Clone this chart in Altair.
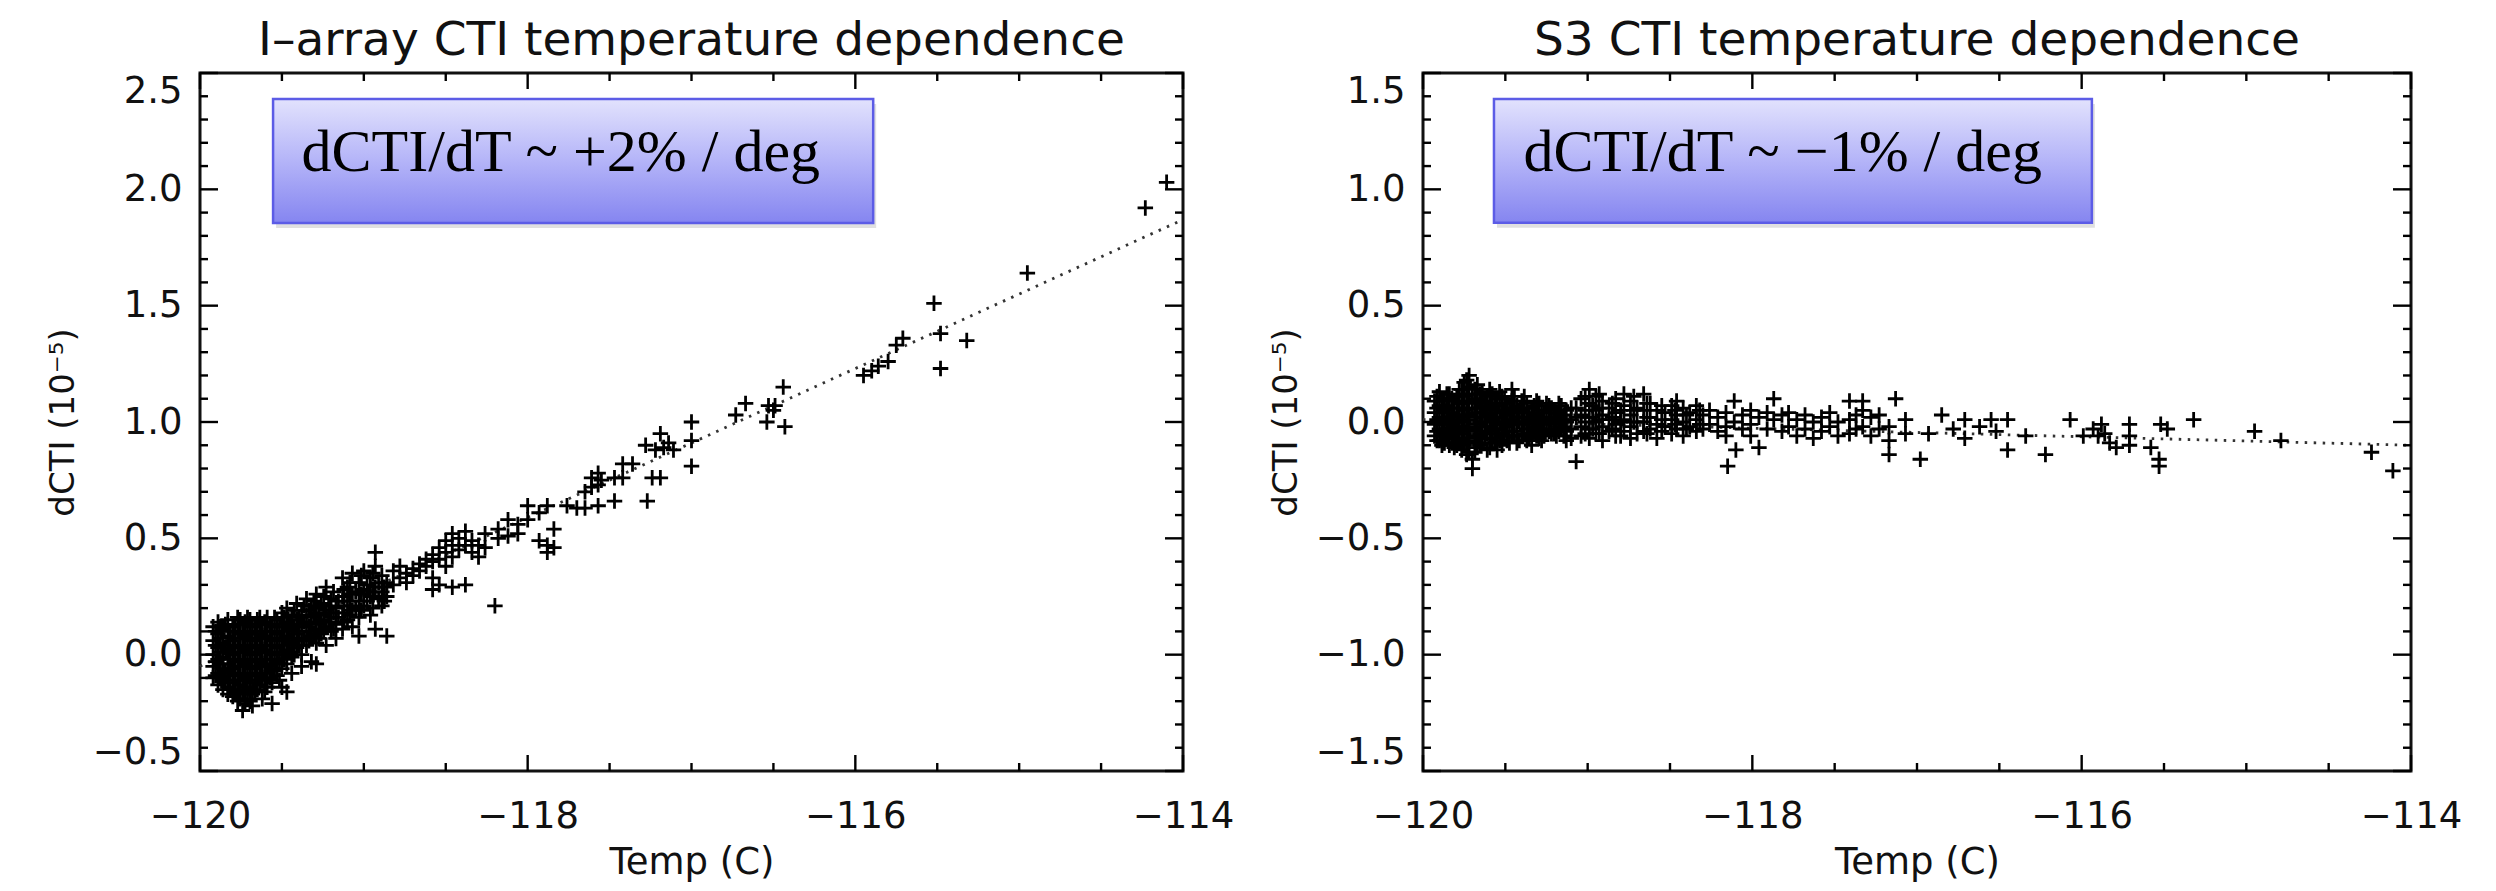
import altair as alt
import pandas as pd

# ---------------- data ----------------
# I-array panel: (Temp, [dCTI values at that temperature])
I_COLS = [
    (-119.92, [0.12, 0.06, 0.00, -0.05, -0.10]),
    (-119.905, [0.10, 0.04, -0.03, -0.09]),
    (-119.89, [0.14, 0.09, 0.03, -0.02, -0.08, -0.13]),
    (-119.875, [0.12, 0.07, 0.01, -0.04, -0.10]),
    (-119.86, [0.11, 0.05, -0.01, -0.06, -0.11, -0.15]),
    (-119.845, [0.13, 0.03, -0.07, -0.12]),
    (-119.83, [0.15, 0.08, 0.02, -0.04, -0.09, -0.14, -0.17]),
    (-119.815, [0.10, 0.04, -0.02, -0.08, -0.15]),
    (-119.80, [0.12, 0.06, 0.00, -0.06, -0.12, -0.18]),
    (-119.785, [0.13, 0.07, 0.01, -0.05, -0.11, -0.16]),
    (-119.77, [0.16, 0.10, 0.03, -0.03, -0.09, -0.15, -0.20]),
    (-119.755, [0.15, 0.09, 0.04, -0.02, -0.08, -0.13, -0.19]),
    (-119.74, [0.13, 0.07, 0.01, -0.05, -0.11, -0.17, -0.24]),
    (-119.725, [0.14, 0.08, 0.02, -0.04, -0.10, -0.16, -0.21]),
    (-119.71, [0.16, 0.10, 0.04, -0.02, -0.08, -0.14, -0.19]),
    (-119.695, [0.15, 0.09, 0.03, -0.03, -0.09, -0.15, -0.20]),
    (-119.68, [0.12, 0.06, 0.00, -0.06, -0.12, -0.17, -0.22]),
    (-119.665, [0.13, 0.07, 0.01, -0.05, -0.11, -0.16]),
    (-119.65, [0.15, 0.09, 0.03, -0.03, -0.09, -0.15]),
    (-119.635, [0.16, 0.10, 0.04, -0.02, -0.08, -0.13]),
    (-119.62, [0.13, 0.07, 0.01, -0.05, -0.11, -0.19]),
    (-119.605, [0.14, 0.08, 0.02, -0.04, -0.10, -0.16]),
    (-119.59, [0.16, 0.10, 0.04, -0.02, -0.08, -0.14]),
    (-119.575, [0.13, 0.07, 0.01, -0.05, -0.10]),
    (-119.56, [0.12, 0.06, 0.00, -0.06, -0.12, -0.21]),
    (-119.545, [0.16, 0.10, 0.04, -0.02, -0.07]),
    (-119.53, [0.15, 0.09, 0.03, -0.03, -0.09]),
    (-119.515, [0.13, 0.07, 0.01, -0.04, -0.11]),
    (-119.50, [0.18, 0.12, 0.06, 0.00, -0.06, -0.14]),
    (-119.485, [0.16, 0.10, 0.04, -0.02]),
    (-119.47, [0.20, 0.14, 0.08, 0.02, -0.04, -0.16]),
    (-119.455, [0.13, 0.07, 0.01]),
    (-119.44, [0.17, 0.11, 0.05, -0.01, -0.08]),
    (-119.425, [0.19, 0.12, 0.06, 0.00]),
    (-119.41, [0.22, 0.15, 0.09, 0.03]),
    (-119.395, [0.16, 0.10, 0.04]),
    (-119.38, [0.19, 0.13, 0.06, 0.00, -0.05]),
    (-119.365, [0.21, 0.14, 0.07]),
    (-119.35, [0.24, 0.17, 0.10, 0.04]),
    (-119.335, [0.19, 0.12, 0.06]),
    (-119.32, [0.21, 0.14, 0.08, -0.03]),
    (-119.305, [0.23, 0.16, 0.09]),
    (-119.29, [0.26, 0.18, 0.11, 0.05, -0.04]),
    (-119.275, [0.20, 0.13, 0.07]),
    (-119.26, [0.22, 0.15, 0.09]),
    (-119.245, [0.25, 0.17, 0.10]),
    (-119.23, [0.29, 0.19, 0.12, 0.04]),
    (-119.215, [0.21, 0.14]),
    (-119.20, [0.24, 0.16, 0.10]),
    (-119.185, [0.27, 0.18, 0.11]),
    (-119.17, [0.20, 0.13, 0.07]),
    (-119.155, [0.23, 0.16]),
    (-119.13, [0.33, 0.25, 0.18, 0.11]),
    (-119.12, [0.28, 0.21, 0.14]),
    (-119.10, [0.29, 0.21, 0.15]),
    (-119.085, [0.31, 0.23, 0.17]),
    (-119.07, [0.35, 0.26, 0.19, 0.12]),
    (-119.05, [0.27, 0.20]),
    (-119.03, [0.31, 0.23, 0.16, 0.08]),
    (-119.015, [0.34, 0.26, 0.19]),
    (-119.00, [0.36, 0.28, 0.21]),
    (-118.98, [0.30, 0.23]),
    (-118.96, [0.33, 0.25, 0.17]),
    (-118.945, [0.35, 0.27, 0.20]),
    (-118.93, [0.44, 0.38, 0.29, 0.11]),
    (-118.91, [0.31, 0.24]),
    (-118.89, [0.34, 0.27, 0.21]),
    (-118.875, [0.29, 0.23]),
    (-118.86, [0.31, 0.25, 0.08]),
    (-118.82, [0.36, 0.30]),
    (-118.78, [0.33, 0.38]),
    (-118.74, [0.35, 0.31]),
    (-118.70, [0.37, 0.34]),
    (-118.66, [0.39, 0.36]),
    (-118.62, [0.38, 0.41]),
    (-118.58, [0.43, 0.40, 0.33, 0.28]),
    (-118.54, [0.46, 0.41, 0.30]),
    (-118.50, [0.49, 0.44, 0.38]),
    (-118.46, [0.52, 0.47, 0.42, 0.29]),
    (-118.42, [0.50, 0.45]),
    (-118.38, [0.53, 0.47, 0.30]),
    (-118.34, [0.49, 0.44]),
    (-118.30, [0.47, 0.42]),
    (-118.26, [0.52, 0.46]),
    (-118.20, [0.21]),
    (-118.18, [0.54, 0.50]),
    (-118.12, [0.58, 0.51]),
    (-118.06, [0.56, 0.52]),
    (-118.00, [0.64, 0.58]),
    (-117.93, [0.61, 0.49]),
    (-117.88, [0.64, 0.47, 0.44]),
    (-117.84, [0.54, 0.46]),
    (-117.76, [0.64]),
    (-117.70, [0.63]),
    (-117.65, [0.63, 0.70]),
    (-117.61, [0.76, 0.72]),
    (-117.57, [0.78, 0.73, 0.64]),
    (-117.55, [0.75]),
    (-117.47, [0.76, 0.66]),
    (-117.42, [0.76, 0.82]),
    (-117.36, [0.82]),
    (-117.28, [0.90]),
    (-117.27, [0.66]),
    (-117.24, [0.76]),
    (-117.22, [0.88]),
    (-117.19, [0.95, 0.76]),
    (-117.17, [0.89]),
    (-117.14, [0.91]),
    (-117.11, [0.88]),
    (-117.00, [1.00, 0.92, 0.81]),
    (-116.73, [1.03]),
    (-116.67, [1.08]),
    (-116.54, [1.00]),
    (-116.53, [1.07]),
    (-116.50, [1.05]),
    (-116.49, [1.07]),
    (-116.44, [1.15]),
    (-116.43, [0.98]),
    (-115.95, [1.20]),
    (-115.90, [1.22]),
    (-115.86, [1.24]),
    (-115.80, [1.26]),
    (-115.75, [1.33]),
    (-115.71, [1.36]),
    (-115.52, [1.51]),
    (-115.48, [1.38, 1.23]),
    (-115.32, [1.35]),
    (-114.95, [1.64]),
    (-114.23, [1.92]),
    (-114.10, [2.03]),
]

# S3 panel
S3_COLS = [
    (-119.93, [0.09, 0.04, -0.01, -0.06]),
    (-119.915, [0.11, 0.06, 0.01, -0.04, -0.08]),
    (-119.90, [0.13, 0.07, 0.02, -0.03, -0.08]),
    (-119.885, [0.09, 0.04, -0.01, -0.06, -0.10]),
    (-119.87, [0.10, 0.05, 0.00, -0.05, -0.09]),
    (-119.855, [0.12, 0.07, 0.02, -0.03, -0.07]),
    (-119.84, [0.12, 0.06, 0.01, -0.04, -0.10]),
    (-119.825, [0.10, 0.04, -0.01, -0.06, -0.09]),
    (-119.81, [0.09, 0.03, -0.02, -0.07, -0.11]),
    (-119.795, [0.11, 0.06, 0.00, -0.05, -0.10]),
    (-119.78, [0.14, 0.08, 0.02, -0.03, -0.08]),
    (-119.765, [0.14, 0.08, 0.03, -0.02, -0.07, -0.12]),
    (-119.75, [0.17, 0.11, 0.05, 0.00, -0.05, -0.10]),
    (-119.735, [0.18, 0.12, 0.06, 0.01, -0.04, -0.09, -0.14]),
    (-119.72, [0.20, 0.15, 0.09, 0.03, -0.02, -0.07, -0.13]),
    (-119.70, [0.12, 0.06, -0.16, -0.20]),
    (-119.685, [0.14, 0.08, 0.02, -0.03, -0.08, -0.13]),
    (-119.67, [0.16, 0.10, 0.04, -0.01, -0.06, -0.11]),
    (-119.655, [0.12, 0.06, 0.00, -0.05, -0.10]),
    (-119.64, [0.13, 0.07, 0.02, -0.04, -0.09]),
    (-119.625, [0.09, 0.04, -0.02, -0.07]),
    (-119.61, [0.11, 0.05, 0.00, -0.05, -0.12]),
    (-119.595, [0.14, 0.08, 0.03, -0.02, -0.07, -0.11]),
    (-119.58, [0.12, 0.06, 0.01, -0.04, -0.09]),
    (-119.565, [0.08, 0.02, -0.03, -0.09]),
    (-119.55, [0.10, 0.04, -0.01, -0.07, -0.12]),
    (-119.535, [0.13, 0.07, 0.02, -0.03, -0.08]),
    (-119.52, [0.11, 0.05, 0.00, -0.05, -0.10]),
    (-119.505, [0.10, 0.05, -0.01, -0.06]),
    (-119.49, [0.08, 0.03, -0.02, -0.08]),
    (-119.475, [0.06, 0.01, -0.04, -0.09]),
    (-119.46, [0.14, 0.09, 0.04, -0.01, -0.06]),
    (-119.445, [0.11, 0.05, 0.00, -0.06]),
    (-119.43, [0.07, 0.02, -0.04, -0.09]),
    (-119.415, [0.05, 0.00, -0.08]),
    (-119.40, [0.09, 0.04, -0.01, -0.06]),
    (-119.385, [0.11, 0.06, 0.00, -0.05]),
    (-119.37, [0.08, 0.02, -0.03, -0.08]),
    (-119.355, [0.04, -0.01, -0.07]),
    (-119.34, [0.06, 0.01, -0.05, -0.10]),
    (-119.325, [0.07, 0.01, -0.04]),
    (-119.31, [0.09, 0.03, -0.02, -0.06]),
    (-119.295, [0.08, 0.02, -0.03, -0.07]),
    (-119.28, [0.05, 0.00, -0.04, -0.08]),
    (-119.265, [0.04, -0.01, -0.06]),
    (-119.25, [0.08, 0.02, -0.03]),
    (-119.235, [0.07, 0.01, -0.04]),
    (-119.22, [0.06, 0.01, -0.05]),
    (-119.205, [0.05, 0.00, -0.05]),
    (-119.19, [0.04, -0.01, -0.06]),
    (-119.175, [0.08, 0.02, -0.04]),
    (-119.16, [0.07, 0.01, -0.03]),
    (-119.145, [0.03, -0.02, -0.06]),
    (-119.13, [0.05, 0.00, -0.04, -0.08]),
    (-119.10, [0.06, 0.01, -0.03, -0.07]),
    (-119.07, [-0.17, 0.02, 0.06]),
    (-119.04, [0.10, 0.03, -0.02, -0.06]),
    (-119.015, [0.11, 0.05, 0.00, -0.05]),
    (-118.99, [0.14, 0.08, 0.02, -0.03, -0.07]),
    (-118.97, [0.07, 0.02, -0.03]),
    (-118.95, [0.11, 0.05, 0.00, -0.05]),
    (-118.93, [0.12, 0.06, 0.01, -0.05]),
    (-118.91, [0.09, 0.03, -0.02, -0.08]),
    (-118.87, [0.06, 0.01, -0.04]),
    (-118.85, [0.08, 0.02, -0.03]),
    (-118.83, [0.10, 0.04, -0.01, -0.06]),
    (-118.80, [0.05, 0.00, -0.06]),
    (-118.78, [0.12, 0.07, 0.01, -0.04]),
    (-118.74, [0.09, 0.03, -0.02, -0.07]),
    (-118.72, [0.11, 0.05, 0.00]),
    (-118.70, [0.06, 0.00, -0.05]),
    (-118.66, [0.12, 0.05, 0.00, -0.04]),
    (-118.64, [0.08, 0.02, -0.05]),
    (-118.62, [0.08, 0.02, -0.03]),
    (-118.58, [0.05, -0.01, -0.07]),
    (-118.55, [0.07, 0.01, -0.04]),
    (-118.53, [0.04, -0.02]),
    (-118.49, [0.07, 0.01, -0.05]),
    (-118.47, [0.05, -0.01]),
    (-118.46, [0.09, 0.03, -0.03]),
    (-118.42, [0.06, 0.00, -0.06]),
    (-118.40, [0.03, -0.03]),
    (-118.38, [0.04, -0.02]),
    (-118.34, [0.07, 0.01, -0.04]),
    (-118.32, [0.05, -0.01]),
    (-118.30, [0.03, -0.03]),
    (-118.26, [0.05, -0.01]),
    (-118.21, [0.02, -0.04]),
    (-118.16, [0.04, -0.02, -0.06]),
    (-118.15, [-0.19]),
    (-118.11, [0.09, 0.00]),
    (-118.10, [-0.12]),
    (-118.06, [0.03, -0.03]),
    (-118.01, [0.05, -0.01, -0.06]),
    (-117.96, [-0.11, 0.02]),
    (-117.91, [0.04, -0.03]),
    (-117.87, [0.10, 0.01]),
    (-117.82, [0.03, -0.04]),
    (-117.78, [-0.02, 0.04]),
    (-117.73, [0.01, -0.06]),
    (-117.68, [-0.03, 0.03]),
    (-117.63, [0.00, -0.07]),
    (-117.58, [0.02, -0.04]),
    (-117.53, [-0.02, 0.04]),
    (-117.48, [0.00, -0.06]),
    (-117.41, [0.09, 0.01, -0.05]),
    (-117.37, [0.03, -0.03]),
    (-117.33, [0.09, 0.05, -0.02]),
    (-117.28, [0.02, -0.06]),
    (-117.23, [-0.03, 0.03]),
    (-117.17, [-0.14, -0.08, -0.02]),
    (-117.13, [0.10]),
    (-117.07, [0.01, -0.05]),
    (-116.98, [-0.16]),
    (-116.93, [-0.05]),
    (-116.85, [0.03]),
    (-116.78, [-0.03]),
    (-116.71, [0.01, -0.07]),
    (-116.62, [-0.02]),
    (-116.55, [0.01]),
    (-116.52, [-0.04]),
    (-116.45, [0.01, -0.12]),
    (-116.34, [-0.06]),
    (-116.22, [-0.14]),
    (-116.07, [0.01]),
    (-115.99, [-0.06]),
    (-115.93, [-0.03]),
    (-115.90, [-0.06]),
    (-115.88, [-0.01]),
    (-115.86, [-0.05]),
    (-115.83, [-0.09]),
    (-115.79, [-0.11]),
    (-115.71, [-0.01, -0.06, -0.10]),
    (-115.58, [-0.11]),
    (-115.53, [-0.16, -0.19]),
    (-115.52, [-0.01]),
    (-115.48, [-0.03]),
    (-115.32, [0.01]),
    (-114.95, [-0.04]),
    (-114.79, [-0.08]),
    (-114.24, [-0.13]),
    (-114.11, [-0.21]),
]

# linear fits (end points)
I_FIT_T = [-120.0, -114.0]
I_FIT_V = [-0.05, 1.87]
S3_FIT_T = [-120.0, -114.0]
S3_FIT_V = [0.01, -0.10]

TITLES = ["I\u2013array CTI temperature dependence", "S3 CTI temperature dependence"]
NOTES = ["dCTI/dT ~ +2% / deg", "dCTI/dT ~ \u22121% / deg"]
X_TITLE = "Temp (C)"
Y_TITLE = "dCTI (10\u207b\u2075)"

X_DOMAIN = [-120, -114]
X_MAJOR = [-120, -118, -116, -114]
X_MINOR = [-119.5, -119, -118.5, -117.5, -117, -116.5, -115.5, -115, -114.5]

I_Y_DOMAIN = [-0.5, 2.5]
I_Y_MAJOR = [-0.5, 0.0, 0.5, 1.0, 1.5, 2.0, 2.5]
I_Y_MINOR = [-0.4, -0.3, -0.2, -0.1, 0.1, 0.2, 0.3, 0.4, 0.6, 0.7, 0.8, 0.9,
             1.1, 1.2, 1.3, 1.4, 1.6, 1.7, 1.8, 1.9, 2.1, 2.2, 2.3, 2.4]
S3_Y_DOMAIN = [-1.5, 1.5]
S3_Y_MAJOR = [-1.5, -1.0, -0.5, 0.0, 0.5, 1.0, 1.5]
S3_Y_MINOR = [-1.4, -1.3, -1.2, -1.1, -0.9, -0.8, -0.7, -0.6, -0.4, -0.3, -0.2, -0.1,
              0.1, 0.2, 0.3, 0.4, 0.6, 0.7, 0.8, 0.9, 1.1, 1.2, 1.3, 1.4]

# note boxes: [T_left, T_right, v_top, v_bottom], text anchor [T, v]
I_BOX = [-119.554, -115.891, 2.388, 1.855]
I_NOTE_AT = [-119.38, 2.08]
S3_BOX = [-119.569, -115.938, 1.388, 0.856]
S3_NOTE_AT = [-119.39, 1.08]

SANS = "DejaVu Sans, Verdana, sans-serif"
SERIF = "Liberation Serif, Times New Roman, serif"


def expand(cols):
    rows = []
    for t, vs in cols:
        for v in vs:
            rows.append({"T": t, "v": v})
    return pd.DataFrame(rows)


def panel(cols, fit_t, fit_v, ydom, ymaj, ymin, box, note_at, note, title, W, H):
    xs = alt.Scale(domain=X_DOMAIN, nice=False, zero=False)
    ys = alt.Scale(domain=ydom, nice=False, zero=False)
    xaxis = alt.Axis(values=X_MAJOR, format="d", labelFlush=False, ticks=False,
                     domain=False, grid=False, labelFont=SANS, labelFontSize=37,
                     labelColor="#111", labelPadding=27, title=X_TITLE,
                     titleFont=SANS, titleFontSize=37, titleFontWeight="normal",
                     titleColor="#111", titlePadding=10)
    yaxis = alt.Axis(values=ymaj, format=".1f", labelFlush=True, ticks=False,
                     domain=False, grid=False, labelFont=SANS, labelFontSize=37,
                     labelColor="#111", labelPadding=18, title=Y_TITLE,
                     titleFont=SANS, titleFontSize=34, titleFontWeight="normal",
                     titleColor="#111", titlePadding=12)

    def X(f):
        return alt.X(f, type="quantitative", scale=xs, axis=xaxis)

    def Y(f):
        return alt.Y(f, type="quantitative", scale=ys, axis=yaxis)

    pts = alt.Chart(expand(cols)).mark_point(
        shape="M-1,0L1,0M0,-1L0,1", filled=False, stroke="black",
        strokeWidth=2.8, size=240, opacity=1
    ).encode(x=X("T"), y=Y("v"))

    fit = alt.Chart(pd.DataFrame({"T": fit_t, "v": fit_v})).mark_line(
        strokeDash=[2.5, 6.5], strokeWidth=2.8, color="#333"
    ).encode(x=X("T"), y=Y("v"))

    boxdf = pd.DataFrame({"T": [box[0]], "T2": [box[1]], "v": [box[2]], "v2": [box[3]]})
    shadow = alt.Chart(boxdf).mark_rect(
        fill="#000", opacity=0.12, xOffset=3, yOffset=5, x2Offset=3, y2Offset=5
    ).encode(x=X("T"), x2="T2", y=Y("v"), y2="v2")
    rect = alt.Chart(boxdf).mark_rect(
        fill=alt.Gradient(gradient="linear",
                          stops=[alt.GradientStop(color="#e2e2fd", offset=0),
                                 alt.GradientStop(color="#b4b4f8", offset=0.5),
                                 alt.GradientStop(color="#8585f0", offset=1)],
                          x1=0, x2=0, y1=0, y2=1),
        stroke="#5c5ce6", strokeWidth=2.5
    ).encode(x=X("T"), x2="T2", y=Y("v"), y2="v2")
    txt = alt.Chart(pd.DataFrame({"T": [note_at[0]], "v": [note_at[1]], "s": [note]})).mark_text(
        align="left", baseline="alphabetic", font=SERIF, fontSize=60, color="black"
    ).encode(x=X("T"), y=Y("v"), text="s:N")

    def rules_x(vals, y0, y1):
        return alt.Chart(pd.DataFrame({"T": vals})).mark_rule(
            color="black", strokeWidth=2.4
        ).encode(x=X("T"), y=alt.value(y0), y2=alt.value(y1))

    def rules_y(vals, x0, x1):
        return alt.Chart(pd.DataFrame({"v": vals})).mark_rule(
            color="black", strokeWidth=2.4
        ).encode(y=Y("v"), x=alt.value(x0), x2=alt.value(x1))

    ticks = [
        rules_x(X_MAJOR, H, H - 16), rules_x(X_MINOR, H, H - 8),
        rules_x(X_MAJOR, 0, 16), rules_x(X_MINOR, 0, 8),
        rules_y(ymaj, 0, 18), rules_y(ymin, 0, 8),
        rules_y(ymaj, W, W - 18), rules_y(ymin, W, W - 8),
    ]

    return alt.layer(shadow, rect, txt, fit, pts, *ticks).properties(
        width=W, height=H,
        title=alt.TitleParams(title, font=SANS, fontSize=47, fontWeight="normal",
                              color="#111", anchor="middle", offset=7),
    )


left = panel(I_COLS, I_FIT_T, I_FIT_V, I_Y_DOMAIN, I_Y_MAJOR, I_Y_MINOR,
             I_BOX, I_NOTE_AT, NOTES[0], TITLES[0], 983, 698)
right = panel(S3_COLS, S3_FIT_T, S3_FIT_V, S3_Y_DOMAIN, S3_Y_MAJOR, S3_Y_MINOR,
              S3_BOX, S3_NOTE_AT, NOTES[1], TITLES[1], 988, 698)

chart = alt.hconcat(left, right, spacing=240, bounds="flush").properties(
    padding={"left": 36, "top": 7, "right": 10, "bottom": 0}
).configure_view(stroke="#111", strokeWidth=3)

chart.save("out.html", embed_options={"renderer": "svg", "actions": False})
